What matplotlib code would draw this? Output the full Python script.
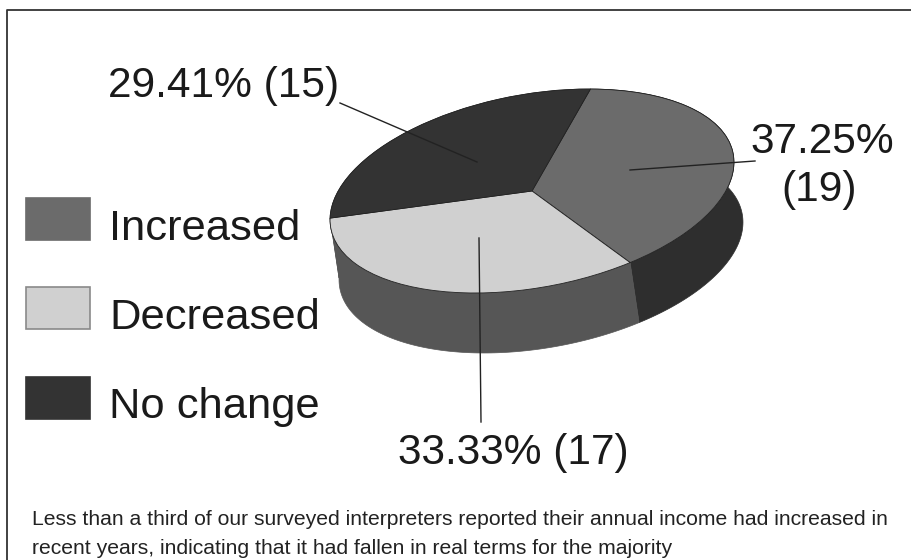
import numpy as np
import matplotlib
matplotlib.use('Agg')
import matplotlib.pyplot as plt
from matplotlib.patches import Polygon, Rectangle
from matplotlib.transforms import Affine2D

plt.rcParams['font.family'] = ['Liberation Sans', 'DejaVu Sans']

categories = ['Increased', 'Decreased', 'No change']
counts = [19, 17, 15]
percents = [37.25, 33.33, 29.41]
top_colors = ['#6b6b6b', '#d0d0d0', '#333333']
side_colors = ['#2e2e2e', '#565656', '#565656']
caption = ['Less than a third of our surveyed interpreters reported their annual income had increased in',
           'recent years, indicating that it had fallen in real terms for the majority']

# tilted disc on the page
center = (532, 191)
semi_major, semi_minor = 204.6, 96.6
tilt = 10.45
depth = (9, 60)
start = 68.2

fig = plt.figure(figsize=(9.12, 5.6), dpi=100)
ax = fig.add_axes([0, 0, 1, 1])

disc = Affine2D().scale(semi_major, semi_minor).rotate_deg(tilt).scale(1, -1).translate(*center)

wedges, _ = ax.pie(percents, startangle=start, counterclock=False, colors=top_colors,
                   wedgeprops={'edgecolor': '#222222', 'linewidth': 0.6, 'zorder': 3})
ax.set_aspect('auto')
ax.set_xlim(0, 912)
ax.set_ylim(560, 0)
ax.set_axis_off()
for w in wedges:
    w.set_transform(disc + ax.transData)

# side walls, drawn below the top face
angle = start
for value, color in zip(percents, side_colors):
    sweep = value / sum(percents) * 360
    t = np.radians(np.linspace(angle, angle - sweep, 120))
    rim = disc.transform(np.column_stack([np.cos(t), np.sin(t)]))
    wall = np.vstack([rim, (rim + depth)[::-1]])
    ax.add_patch(Polygon(wall, closed=True, facecolor=color, edgecolor=color, linewidth=0.5, zorder=2))
    angle -= sweep

# frame: left and top rules only
ax.plot([7, 7, 912], [560, 9.5, 9.5], color='#333333', lw=1.3, zorder=1)

# legend
for y, base, name, color in zip([198, 287, 377], [240, 329, 418], categories, top_colors):
    ax.add_patch(Rectangle((26, y), 64, 42, facecolor=color,
                           edgecolor='#8a8a8a' if color == '#d0d0d0' else color, lw=1.2))
    ax.text(109, base, name, fontsize=31.3, va='baseline', ha='left', color='#1a1a1a')

# leader lines and value labels
ax.plot([340, 477], [103, 162], color='#222222', lw=1, zorder=4)
ax.plot([630, 755], [170, 161], color='#222222', lw=1, zorder=4)
ax.plot([479, 481], [238, 422], color='#222222', lw=1, zorder=4)
ax.text(108, 97, f'{percents[2]:.2f}% ({counts[2]})', fontsize=30.5, va='baseline', ha='left', color='#1a1a1a')
ax.text(822, 153, f'{percents[0]:.2f}%', fontsize=30.5, va='baseline', ha='center', color='#1a1a1a')
ax.text(819, 201, f'({counts[0]})', fontsize=30.5, va='baseline', ha='center', color='#1a1a1a')
ax.text(398, 464, f'{percents[1]:.2f}% ({counts[1]})', fontsize=30.5, va='baseline', ha='left', color='#1a1a1a')

for base, line in zip([525, 554], caption):
    ax.text(32, base, line, fontsize=15.2, va='baseline', ha='left', color='#222222')

fig.savefig('out.png', dpi=100)
